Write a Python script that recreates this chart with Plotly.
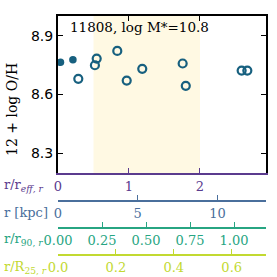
import plotly.graph_objects as go

# data (r / r_eff, 12 + log O/H)
filled_r = [0.035, 0.21]
filled_oh = [8.764, 8.777]
open_r = [0.286, 0.52, 0.545, 0.835, 0.968, 1.187, 1.756, 1.80, 2.587, 2.667]
open_oh = [8.680, 8.749, 8.783, 8.822, 8.671, 8.731, 8.758, 8.644, 8.722, 8.722]

label = "11808, log M*=10.8"
shade_range = [0.5, 2.0]
reff_range = [0, 2.93]
kpc_per_reff = 4.45
r90_per_reff = 0.4033
r25_per_reff = 0.2452

W, H = 277, 277
ML, MR, MT, MB = 58, 11, 16, 0
ph = H - MT - MB
pw = W - ML - MR

def py(pix):
    return (H - MB - pix) / ph

def px(pix):
    return (pix - ML) / pw

PURPLE = "#5b3b8e"
BLUE = "#4a6f9c"
GREEN = "#27a582"
YGREEN = "#c2d931"
MARK = "#17607f"
SERIF = "DejaVu Serif"

fig = go.Figure()
fig.add_trace(go.Scatter(x=filled_r, y=filled_oh, mode="markers",
                         marker=dict(size=7.5, color=MARK), showlegend=False))
fig.add_trace(go.Scatter(x=open_r, y=open_oh, mode="markers",
                         marker=dict(size=8, color="rgba(0,0,0,0)",
                                     line=dict(color=MARK, width=2.2)),
                         showlegend=False))
for ax in ["x2", "x3", "x4", "x5"]:
    fig.add_trace(go.Scatter(x=[None], y=[None], xaxis=ax, yaxis="y",
                             showlegend=False, hoverinfo="skip"))

fig.add_vrect(x0=shade_range[0], x1=shade_range[1], fillcolor="#fff9e3",
              line_width=0, layer="below")

dom_bottom = py(173)
common = dict(showgrid=False, zeroline=False, showline=True, automargin=False,
              ticks="inside", ticklen=5, tickwidth=1.3)
fig.update_layout(
    width=W, height=H,
    margin=dict(l=ML, r=MR, t=MT, b=MB),
    paper_bgcolor="white", plot_bgcolor="white",
    font=dict(family=SERIF, size=13, color="black"),
    xaxis=dict(range=reff_range, domain=[0, 1], linecolor=PURPLE, linewidth=1.8,
               tickcolor=PURPLE, tickvals=[0, 1, 2], ticktext=["0", "1", "2"],
               tickfont=dict(color=PURPLE, size=13, family=SERIF), **common),
    xaxis5=dict(range=reff_range, overlaying="x", side="top", linecolor="black",
                linewidth=2, tickcolor="black", tickvals=[0, 1, 2],
                showticklabels=False, **common),
    yaxis=dict(range=[8.2, 9.0], domain=[dom_bottom, 1], linecolor="black",
               linewidth=2, mirror="ticks", tickcolor="black",
               tickvals=[8.3, 8.6, 8.9], ticktext=["8.3", "8.6", "8.9"],
               tickfont=dict(family="DejaVu Sans", size=14, color="black"),
               **common),
    xaxis2=dict(range=[reff_range[0] * kpc_per_reff, reff_range[1] * kpc_per_reff],
                overlaying="x", anchor="free", position=py(201), linecolor=BLUE,
                linewidth=1.8, tickcolor=BLUE, tickvals=[0, 5, 10],
                ticktext=["0", "5", "10"],
                tickfont=dict(color=BLUE, size=13, family=SERIF), **common),
    xaxis3=dict(range=[reff_range[0] * r90_per_reff, reff_range[1] * r90_per_reff],
                overlaying="x", anchor="free", position=py(228), linecolor=GREEN,
                linewidth=1.8, tickcolor=GREEN,
                tickvals=[0, 0.25, 0.5, 0.75, 1.0],
                ticktext=["0.00", "0.25", "0.50", "0.75", "1.00"],
                tickfont=dict(color=GREEN, size=13, family=SERIF), **common),
    xaxis4=dict(range=[reff_range[0] * r25_per_reff, reff_range[1] * r25_per_reff],
                overlaying="x", anchor="free", position=py(255), linecolor=YGREEN,
                linewidth=1.8, tickcolor=YGREEN,
                tickvals=[0, 0.2, 0.4, 0.6], ticktext=["0.0", "0.2", "0.4", "0.6"],
                tickfont=dict(color=YGREEN, size=13, family=SERIF), **common),
)

titles = [("r/r<sub><i>eff, r</i></sub>", PURPLE, 186),
          ("r [kpc]", BLUE, 212),
          ("r/r<sub>90, <i>r</i></sub>", GREEN, 239),
          ("r/R<sub>25, <i>r</i></sub>", YGREEN, 267)]
for txt, col, ypix in titles:
    fig.add_annotation(text=txt, xref="paper", yref="paper", x=px(2), y=py(ypix),
                       xanchor="left", yanchor="middle", showarrow=False,
                       font=dict(family=SERIF, size=13, color=col))

fig.add_annotation(text="12 + log O/H", xref="paper", yref="paper", x=px(12),
                   y=py(110), xanchor="center", yanchor="middle", textangle=-90,
                   showarrow=False, font=dict(family=SERIF, size=14, color="black"))

fig.add_annotation(text=label, xref="paper", yref="paper", x=px(68), y=py(27),
                   xanchor="left", yanchor="middle", showarrow=False,
                   font=dict(family=SERIF, size=13.5, color="black"))

fig.write_html("out.html", config={"displayModeBar": False},
               post_script="document.body.style.margin='0';document.body.style.overflow='hidden';")
